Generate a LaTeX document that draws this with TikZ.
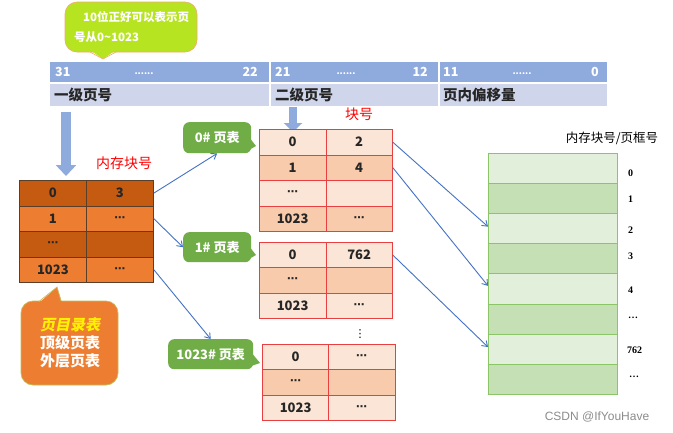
\documentclass[tikz,border=0pt]{standalone}
\usepackage{fontspec}
\setmainfont{Noto Sans CJK SC}
\newfontfamily\cjkit{Noto Sans CJK SC}[FakeSlant=0.2]
\newfontfamily\tms{Liberation Serif}
\newfontfamily\wmfont{Liberation Sans}
\newfontfamily\dvs{DejaVu Sans}
\usetikzlibrary{arrows.meta,calc}
\definecolor{hdrblue}{RGB}{143,170,220}
\definecolor{lowblue}{RGB}{207,213,234}
\definecolor{dorange}{RGB}{197,90,17}
\definecolor{morange}{RGB}{237,125,49}
\definecolor{tborder}{RGB}{90,62,40}
\definecolor{plight}{RGB}{251,229,214}
\definecolor{pdark}{RGB}{248,203,173}
\definecolor{pborder}{RGB}{232,64,64}
\definecolor{glight}{RGB}{226,239,218}
\definecolor{gdark}{RGB}{197,224,180}
\definecolor{gborder}{RGB}{140,196,104}
\definecolor{cgreen}{RGB}{112,173,71}
\definecolor{lime}{RGB}{183,228,32}
\definecolor{limeborder}{RGB}{240,170,110}
\definecolor{oborder}{RGB}{196,190,90}
\definecolor{arrowblue}{RGB}{68,114,196}
\definecolor{bigblue}{RGB}{143,170,220}
\definecolor{txtred}{RGB}{255,0,0}
\newcommand\dotsh{{\dvs\fontsize{11}{12}\selectfont ⋯}}
\begin{document}
\begin{tikzpicture}[x=1pt,y=1pt,
  seg/.style={inner sep=0pt, anchor=north west, outer sep=0pt},
  hnum/.style={text=white, font=\bfseries\fontsize{12.5}{14}\selectfont, inner sep=0pt},
  hdots/.style={text=white, font=\bfseries\fontsize{9}{10}\selectfont, inner sep=0pt},
  hlab/.style={text=black!85, font=\bfseries\fontsize{14.5}{16}\selectfont, inner sep=0pt, anchor=west},
  cellbase/.style={inner sep=0pt, anchor=north west, line width=0.8pt, font=\bfseries\fontsize{13}{14}\selectfont, text=black!85},
  tA/.style={cellbase, draw=tborder, fill=dorange, minimum width=67pt, minimum height=25.5pt},
  tB/.style={cellbase, draw=tborder, fill=morange, minimum width=67pt, minimum height=25.5pt},
  sA/.style={cellbase, draw=pborder, fill=plight, minimum width=66.5pt},
  sB/.style={cellbase, draw=pborder, fill=pdark, minimum width=66.5pt},
  mA/.style={inner sep=0pt, anchor=north west, draw=gborder, fill=glight, line width=0.8pt, minimum width=129pt, minimum height=30.1pt},
  mB/.style={mA, fill=gdark},
  mlab/.style={anchor=west, inner sep=0pt, font=\tms\bfseries\fontsize{10}{11}\selectfont},
  gcall/.style={fill=cgreen, rounded corners=6pt, inner sep=0pt, anchor=north west, text=white, font=\bfseries\fontsize{13}{14}\selectfont},
  redtxt/.style={text=txtred, font=\fontsize{14}{15}\selectfont, inner sep=0pt},
  conn/.style={draw=arrowblue, line width=0.9pt, -{Straight Barb[length=5pt,width=7pt]}},
  bigarrow/.style={draw=bigblue, -{Triangle[length=11pt,width=20pt]}}
]
\useasboundingbox (0,0) rectangle (673,-432);
\fill[white] (0,0) rectangle (673,-432);

% lime callout
\node[seg, fill=lime, draw=limeborder, line width=0.6pt, rounded corners=12pt, minimum width=132pt, minimum height=50pt] (tip) at (65,-2) {};
\fill[lime] (90,-50) -- (103,-59) -- (116,-50) -- cycle;
\draw[limeborder, line width=0.6pt] (90,-52) -- (103,-59) -- (116,-52);
\node[inner sep=0pt, anchor=north west, align=left, text=white, font=\bfseries\fontsize{11.5}{20}\selectfont] (tiptxt) at (74,-11) {\hspace{9pt}10位正好可以表示页\\号从0\textasciitilde 1023};

% bit bar
\node[seg, fill=hdrblue, minimum width=219pt, minimum height=20pt] (h1) at (50,-62) {};
\node[seg, fill=hdrblue, minimum width=167.5pt, minimum height=20pt] (h2) at (270.5,-62) {};
\node[seg, fill=hdrblue, minimum width=167.5pt, minimum height=20pt] (h3) at (439.5,-62) {};
\node[seg, fill=lowblue, minimum width=219pt, minimum height=22pt] (l1) at (50,-84) {};
\node[seg, fill=lowblue, minimum width=167.5pt, minimum height=22pt] (l2) at (270.5,-84) {};
\node[seg, fill=lowblue, minimum width=167.5pt, minimum height=22pt] (l3) at (439.5,-84) {};
\node[hnum, anchor=west] (n31) at (55,-72) {31};
\node[hdots] (d1) at (144,-74) {......};
\node[hnum, anchor=east] (n22) at (258,-72) {22};
\node[hnum, anchor=west] (n21) at (275,-72) {21};
\node[hdots] (d2) at (346,-74) {......};
\node[hnum, anchor=east] (n12) at (428,-72) {12};
\node[hnum, anchor=west] (n11) at (443,-72) {11};
\node[hdots] (d3) at (522,-74) {......};
\node[hnum, anchor=east] (n0) at (599,-72) {0};
\node[hlab] (lab1) at (54,-95) {一级页号};
\node[hlab] (lab2) at (275,-95) {二级页号};
\node[hlab] (lab3) at (443,-95) {页内偏移量};

% big arrows
\coordinate (ba1s) at (66,-112);
\coordinate (ba1e) at (66,-176);
\draw[bigarrow, line width=10pt] (ba1s) -- (ba1e);
\coordinate (ba2s) at (293,-107);
\coordinate (ba2e) at (293,-132);
\draw[bigarrow, line width=8pt, -{Triangle[length=9pt,width=18pt]}] (ba2s) -- (ba2e);

\node[redtxt] (nckh) at (124,-163) {内存块号};
\node[redtxt] (kh) at (359,-114) {块号};

% top-level table
\node[tA] (p0a) at (19,-180) {0};
\node[tA] (p0b) at (86,-180) {3};
\node[tB] (p1a) at (19,-205.5) {1};
\node[tB] (p1b) at (86,-205.5) {\dotsh};
\node[tA] (p2a) at (19,-231) {\dotsh};
\node[tA] (p2b) at (86,-231) {};
\node[tB] (p3a) at (19,-256.5) {1023};
\node[tB] (p3b) at (86,-256.5) {\dotsh};

% orange callout
\node[seg, fill=morange, draw=oborder, line width=0.7pt, rounded corners=12pt, minimum width=97pt, minimum height=84pt] (dir) at (21,-301) {};
\fill[morange] (39,-303) -- (57,-287) -- (62,-303) -- cycle;
\draw[oborder, line width=0.7pt] (39,-301.5) -- (57,-287) -- (61,-301);
\node[inner sep=0pt, align=center, font=\bfseries\fontsize{15}{18}\selectfont, text=white] (dirtxt) at (70,-343) {{\cjkit\color{yellow}页目录表}\\顶级页表\\外层页表};

% green callouts
\node[gcall, minimum width=68pt, minimum height=31pt] (c0) at (183,-122) {0\# 页表};
\fill[cgreen] (249,-137) -- (256,-146) -- (249,-150) -- cycle;
\node[gcall, minimum width=68pt, minimum height=30pt] (c1) at (183,-232) {1\# 页表};
\fill[cgreen] (249,-246) -- (256,-255) -- (249,-259) -- cycle;
\node[gcall, minimum width=85pt, minimum height=30pt] (c1023) at (168,-339) {1023\# 页表};
\fill[cgreen] (251,-352) -- (260,-363) -- (251,-366) -- cycle;

% second-level table 0#
\node[sA, minimum height=25.5pt] (s0r0a) at (259,-129) {0};
\node[sA, minimum height=25.5pt] (s0r0b) at (325.5,-129) {2};
\node[sB, minimum height=25.5pt] (s0r1a) at (259,-154.5) {1};
\node[sB, minimum height=25.5pt] (s0r1b) at (325.5,-154.5) {4};
\node[sA, minimum height=25.5pt] (s0r2a) at (259,-180) {\dotsh};
\node[sA, minimum height=25.5pt] (s0r2b) at (325.5,-180) {};
\node[sB, minimum height=25.5pt] (s0r3a) at (259,-205.5) {1023};
\node[sB, minimum height=25.5pt] (s0r3b) at (325.5,-205.5) {\dotsh};

% second-level table 1#
\node[sA, minimum height=25.3pt] (s1r0a) at (259,-242) {0};
\node[sA, minimum height=25.3pt] (s1r0b) at (325.5,-242) {762};
\node[sB, minimum height=25.3pt] (s1r1a) at (259,-267.3) {\dotsh};
\node[sB, minimum height=25.3pt] (s1r1b) at (325.5,-267.3) {};
\node[sA, minimum height=25.3pt] (s1r2a) at (259,-292.6) {1023};
\node[sA, minimum height=25.3pt] (s1r2b) at (325.5,-292.6) {\dotsh};

\node[inner sep=0pt, font=\dvs\fontsize{11}{12}\selectfont] (vdots) at (360,-334) {⋮};

% second-level table 1023#
\node[sA, minimum height=25.3pt] (s2r0a) at (262,-344) {0};
\node[sA, minimum height=25.3pt] (s2r0b) at (328,-344) {\dotsh};
\node[sB, minimum height=25.3pt] (s2r1a) at (262,-369.3) {\dotsh};
\node[sB, minimum height=25.3pt] (s2r1b) at (328,-369.3) {};
\node[sA, minimum height=25.3pt] (s2r2a) at (262,-394.6) {1023};
\node[sA, minimum height=25.3pt] (s2r2b) at (328,-394.6) {\dotsh};

% memory
\node[inner sep=0pt, font=\fontsize{12.5}{13}\selectfont] (memhdr) at (612,-138) {内存块号/页框号};
\node[mA] (m0) at (488,-153) {};
\node[mB] (m1) at (488,-183.1) {};
\node[mA] (m2) at (488,-213.2) {};
\node[mB] (m3) at (488,-243.3) {};
\node[mA] (m4) at (488,-273.4) {};
\node[mB] (m5) at (488,-303.5) {};
\node[mA] (m6) at (488,-333.6) {};
\node[mB] (m7) at (488,-363.7) {};
\node[mlab] (ml0) at (628,-173) {0};
\node[mlab] (ml1) at (628,-199) {1};
\node[mlab] (ml2) at (628,-230) {2};
\node[mlab] (ml3) at (628,-256) {3};
\node[mlab] (ml4) at (628,-290) {4};
\node[mlab] (ml5) at (628,-318) {…};
\node[mlab] (ml6) at (627,-350) {762};
\node[mlab] (ml7) at (629,-377) {…};

% connectors
\draw[conn] (p0b.east) -- (c0.south);
\draw[conn] (p1b.east) -- (c1.west);
\draw[conn] (p3b.east) -- (c1023.north);
\draw[conn] (s0r0b.east) -- ($(m2.west)+(0,2)$);
\draw[conn] (s0r1b.east) -- ($(m4.west)+(0,3)$);
\draw[conn] (s1r0b.east) -- ($(m6.west)+(0,2)$);

\node[inner sep=0pt, text=black!45, font=\wmfont\fontsize{12}{13}\selectfont] (wm) at (597,-417) {CSDN @IfYouHave};
\end{tikzpicture}
\end{document}
